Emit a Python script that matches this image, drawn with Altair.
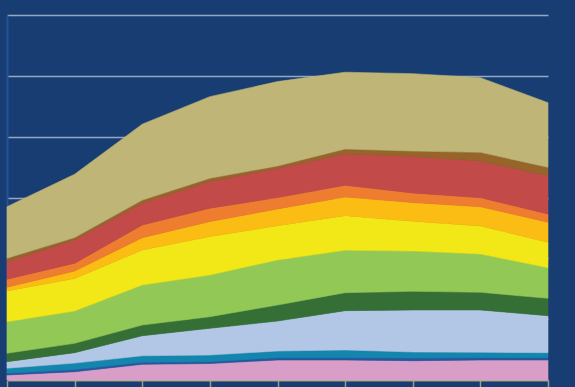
import altair as alt
import pandas as pd

# Category positions along the x axis (nine periods)
periods = [0, 1, 2, 3, 4, 5, 6, 7, 8]

# Stacked series, bottom to top
series_names = [
    "pink", "navy", "teal", "light blue", "dark green", "light green",
    "yellow", "gold", "orange", "red", "brown", "khaki",
]
series_colors = [
    "#d99ec8", "#2556a0", "#1486ad", "#b2c6e6", "#356f35", "#92c855",
    "#f2e818", "#fbbd13", "#ef7d2f", "#c24b4a", "#976529", "#bfb577",
]

pink = [0.82, 1.36, 2.58, 2.71, 3.29, 3.29, 3.17, 3.29, 3.29]
navy = [0.30, 0.35, 0.33, 0.30, 0.38, 0.38, 0.45, 0.38, 0.38]
teal = [0.82, 1.07, 1.08, 1.10, 1.10, 1.27, 0.99, 0.89, 0.82]
light_blue = [1.08, 1.72, 3.29, 4.39, 4.93, 6.46, 6.90, 6.95, 6.08]
dark_green = [1.38, 1.53, 1.76, 1.91, 2.63, 2.96, 3.07, 2.91, 2.86]
light_green = [5.19, 5.31, 6.58, 6.86, 7.40, 6.97, 6.63, 6.30, 5.03]
yellow = [5.05, 5.33, 5.75, 6.30, 5.64, 5.69, 4.88, 4.60, 4.18]
gold = [0.61, 1.25, 2.02, 2.47, 2.75, 3.07, 3.07, 3.17, 3.29]
orange = [1.32, 1.27, 2.09, 2.20, 1.86, 1.92, 1.58, 1.48, 1.36]
red = [2.89, 3.83, 3.60, 4.37, 4.83, 5.15, 6.03, 6.03, 6.30]
brown = [0.56, 0.39, 0.49, 0.56, 0.38, 0.82, 0.87, 1.43, 1.38]
khaki = [8.48, 10.41, 12.49, 13.41, 13.86, 12.61, 12.72, 12.26, 10.62]

series_values = [
    pink, navy, teal, light_blue, dark_green, light_green,
    yellow, gold, orange, red, brown, khaki,
]

rows = []
for rank, (name, values) in enumerate(zip(series_names, series_values)):
    for period, value in zip(periods, values):
        rows.append({"period": period, "series": name, "rank": rank, "value": value})
data = pd.DataFrame(rows)

color_scale = alt.Scale(domain=series_names, range=series_colors)

chart = (
    alt.Chart(data)
    .mark_area(interpolate="linear", strokeWidth=0.6)
    .encode(
        x=alt.X(
            "period:Q",
            scale=alt.Scale(domain=[0, 8], nice=False, zero=False),
            axis=alt.Axis(
                values=periods,
                labels=False,
                title=None,
                grid=False,
                domainColor="#b3ae7c",
                domainWidth=1.5,
                tickColor="#9b9b8e",
                tickWidth=1.5,
                tickSize=7,
            ),
        ),
        y=alt.Y(
            "value:Q",
            stack="zero",
            scale=alt.Scale(domain=[0, 60], nice=False),
            axis=alt.Axis(
                values=[0, 10, 20, 30, 40, 50, 60],
                labels=False,
                ticks=False,
                title=None,
                grid=True,
                gridColor="#97a6c2",
                gridWidth=1.5,
                domainColor="#23539a",
                domainWidth=2,
            ),
        ),
        color=alt.Color("series:N", scale=color_scale, legend=None),
        stroke=alt.Stroke("series:N", scale=color_scale, legend=None),
        order=alt.Order("rank:Q", sort="ascending"),
    )
    .properties(
        width=541,
        height=365,
        background="#173d73",
        padding={"left": 7, "top": 15, "right": 27, "bottom": 7},
        autosize=alt.AutoSizeParams(type="none"),
    )
    .configure_view(stroke=None)
)

chart.save("out.html", embed_options={"renderer": "svg", "actions": False})
